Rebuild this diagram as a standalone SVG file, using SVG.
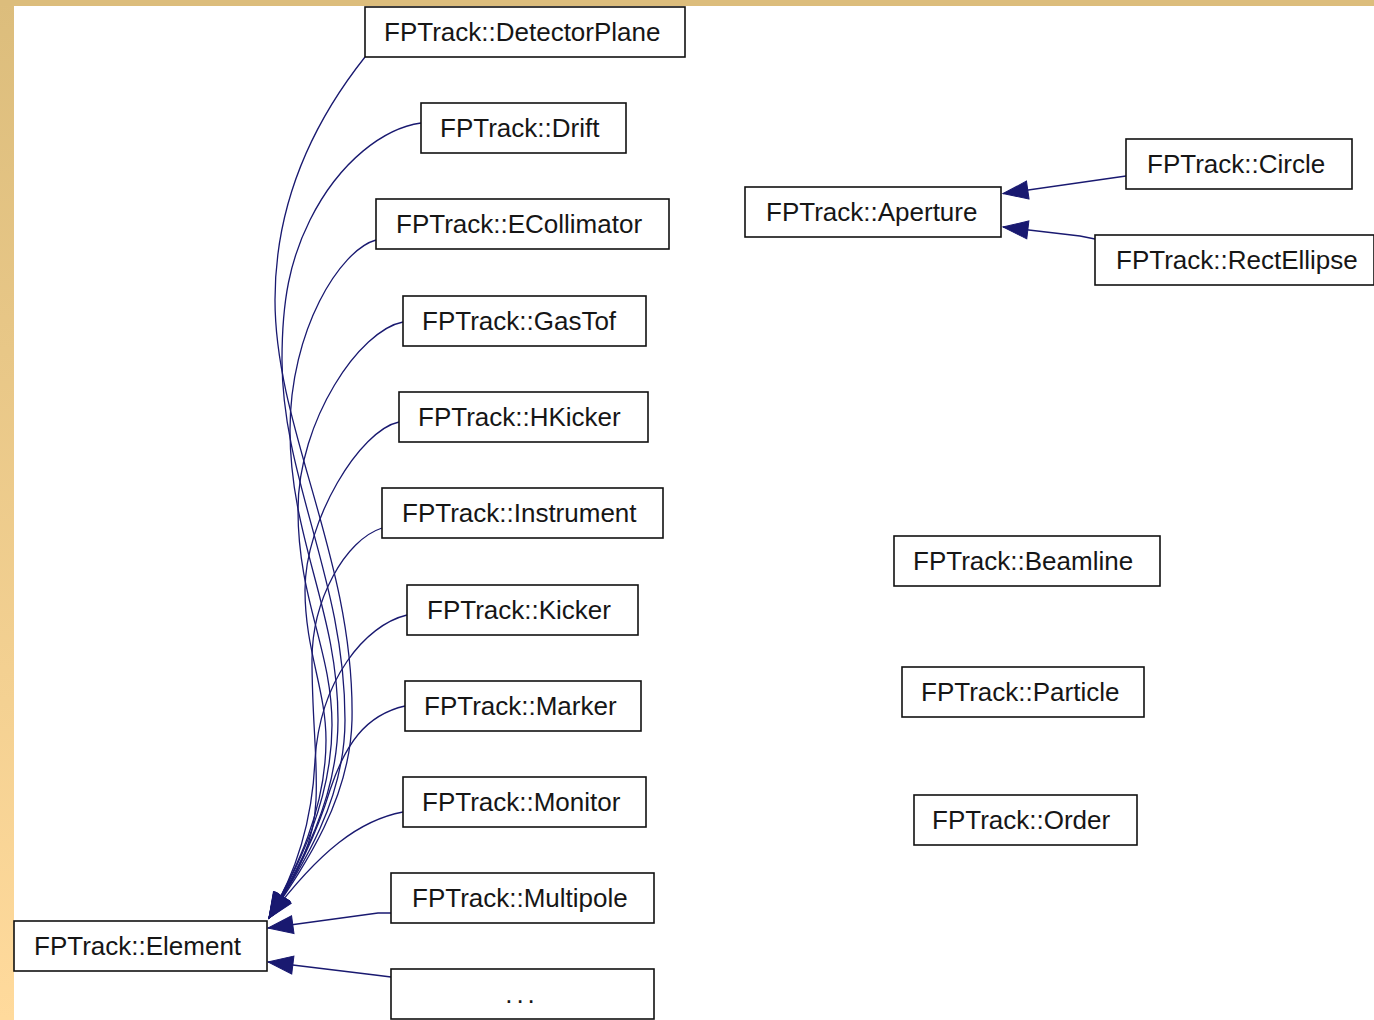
<svg xmlns="http://www.w3.org/2000/svg" width="1374" height="1020" viewBox="0 0 1374 1020">
<defs>
<linearGradient id="side" x1="0" y1="0" x2="0" y2="1">
<stop offset="0" stop-color="#DCBD7C"/>
<stop offset="1" stop-color="#FFDA9C"/>
</linearGradient>
<marker id="arr" markerUnits="userSpaceOnUse" markerWidth="26" markerHeight="18" refX="25" refY="9" orient="auto" viewBox="0 0 26 18" overflow="visible">
<path d="M0,0 L25,9 L0,18 Z" fill="#191970" stroke="#191970" stroke-width="1"/>
</marker>
<style>
.box{fill:#fff;stroke:#111;stroke-width:1.6}
.lbl{font-family:"Liberation Sans",Arial,sans-serif;font-size:26px;fill:#161616}
.edge{fill:none;stroke:#191970;stroke-width:1.3;marker-end:url(#arr)}
</style>
</defs>
<rect x="0" y="0" width="1374" height="1020" fill="#fff"/>
<rect x="0" y="0" width="14" height="1020" fill="url(#side)"/>
<rect x="0" y="0" width="1374" height="6" fill="#DCBD7C"/>

<g id="connectors">
<path class="edge" d="M365,57 C315,120 275,200 275,300 C275,430 355,560 352,720 C350,800 305,865 269,918"/>
<path class="edge" d="M421,123 C385,128 340,160 310,220 C290,260 282,300 282,360 C282,480 345,580 345,720 C345,800 303,865 269,918"/>
<path class="edge" d="M376,240 C340,250 290,330 290,430 C290,540 338,610 338,720 C338,800 300,865 269,918"/>
<path class="edge" d="M403,322 C360,330 298,420 298,510 C298,600 332,650 332,725 C332,800 298,868 269,918"/>
<path class="edge" d="M399,422 C360,430 305,520 305,590 C305,650 326,690 326,740 C326,810 296,870 269,918"/>
<path class="edge" d="M382,528 C345,540 312,600 312,660 C312,720 318,760 316,800 C314,850 292,880 269,918"/>
<path class="edge" d="M407,615 C365,625 320,680 315,760 C312,830 292,880 269,918"/>
<path class="edge" d="M405,706 C365,715 345,745 330,790 C318,830 295,880 269,918"/>
<path class="edge" d="M403,812 C360,820 320,850 269,918"/>
<path class="edge" d="M391,913 L378,913 L268,928"/>
<path class="edge" d="M391,977 L375,975 L268,962"/>
<path class="edge" d="M1126,176 L1003,193.6"/>
<path class="edge" d="M1095,239 L1080,236 L1003,227"/>
</g>

<g id="n-detectorplane"><rect class="box" x="365" y="7" width="320" height="50"/><text class="lbl" x="384" y="41">FPTrack::DetectorPlane</text></g>
<g id="n-drift"><rect class="box" x="421" y="103" width="205" height="50"/><text class="lbl" x="440" y="137">FPTrack::Drift</text></g>
<g id="n-ecollimator"><rect class="box" x="376" y="199" width="293" height="50"/><text class="lbl" x="396" y="233">FPTrack::ECollimator</text></g>
<g id="n-gastof"><rect class="box" x="403" y="296" width="243" height="50"/><text class="lbl" x="422" y="330">FPTrack::GasTof</text></g>
<g id="n-hkicker"><rect class="box" x="399" y="392" width="249" height="50"/><text class="lbl" x="418" y="426">FPTrack::HKicker</text></g>
<g id="n-instrument"><rect class="box" x="382" y="488" width="281" height="50"/><text class="lbl" x="402" y="522">FPTrack::Instrument</text></g>
<g id="n-kicker"><rect class="box" x="407" y="585" width="231" height="50"/><text class="lbl" x="427" y="619">FPTrack::Kicker</text></g>
<g id="n-marker"><rect class="box" x="405" y="681" width="236" height="50"/><text class="lbl" x="424" y="715">FPTrack::Marker</text></g>
<g id="n-monitor"><rect class="box" x="403" y="777" width="243" height="50"/><text class="lbl" x="422" y="811">FPTrack::Monitor</text></g>
<g id="n-multipole"><rect class="box" x="391" y="873" width="263" height="50"/><text class="lbl" x="412" y="907">FPTrack::Multipole</text></g>
<g id="n-more"><rect class="box" x="391" y="969" width="263" height="50"/><text class="lbl" x="522" y="1003" text-anchor="middle" letter-spacing="4">...</text></g>
<g id="n-element"><rect class="box" x="14" y="921" width="253" height="50"/><text class="lbl" x="34" y="955">FPTrack::Element</text></g>
<g id="n-aperture"><rect class="box" x="745" y="187" width="256" height="50"/><text class="lbl" x="766" y="221">FPTrack::Aperture</text></g>
<g id="n-circle"><rect class="box" x="1126" y="139" width="226" height="50"/><text class="lbl" x="1147" y="173">FPTrack::Circle</text></g>
<g id="n-rectellipse"><rect class="box" x="1095" y="235" width="279" height="50"/><text class="lbl" x="1116" y="269">FPTrack::RectEllipse</text></g>
<g id="n-beamline"><rect class="box" x="894" y="536" width="266" height="50"/><text class="lbl" x="913" y="570">FPTrack::Beamline</text></g>
<g id="n-particle"><rect class="box" x="902" y="667" width="242" height="50"/><text class="lbl" x="921" y="701">FPTrack::Particle</text></g>
<g id="n-order"><rect class="box" x="914" y="795" width="223" height="50"/><text class="lbl" x="932" y="829">FPTrack::Order</text></g>
</svg>
